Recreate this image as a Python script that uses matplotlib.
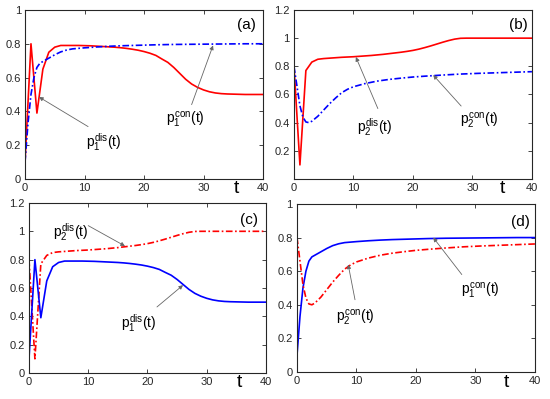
import numpy as np
import matplotlib
matplotlib.use("Agg")
import matplotlib.pyplot as plt
from matplotlib.ticker import FuncFormatter

plt.rcParams['font.family'] = ['Liberation Sans', 'DejaVu Sans']
plt.rcParams['mathtext.fontset'] = 'custom'
plt.rcParams['mathtext.rm'] = 'Liberation Sans'
plt.rcParams['mathtext.it'] = 'Liberation Sans'

# discrete-time curves, sampled at t = 0, 1, ..., 40
t_dis = list(range(41))
p1_dis = [0.10, 0.80, 0.39, 0.65, 0.75, 0.78, 0.79, 0.79, 0.79, 0.79,
          0.789, 0.788, 0.786, 0.784, 0.782, 0.780, 0.777, 0.773, 0.768, 0.762,
          0.754, 0.744, 0.731, 0.710, 0.690, 0.660, 0.625, 0.590, 0.562, 0.542,
          0.527, 0.516, 0.509, 0.505, 0.503, 0.502, 0.501, 0.50, 0.50, 0.50, 0.50]
p2_dis = [0.80, 0.10, 0.77, 0.83, 0.85, 0.855, 0.858, 0.861, 0.864, 0.866,
          0.868, 0.871, 0.874, 0.877, 0.881, 0.885, 0.890, 0.895, 0.900, 0.906,
          0.913, 0.922, 0.933, 0.945, 0.958, 0.971, 0.983, 0.993, 0.999, 1.0,
          1.0, 1.0, 1.0, 1.0, 1.0, 1.0, 1.0, 1.0, 1.0, 1.0, 1.0]

# continuous-time curves
t_con = [0, 0.5, 1, 1.5, 2, 2.5, 3, 4, 5, 6, 7, 8, 9, 10, 12, 14, 16, 18, 20,
         22, 25, 28, 31, 34, 37, 40]
p1_con = [0.10, 0.33, 0.50, 0.60, 0.66, 0.685, 0.695, 0.715, 0.735, 0.752,
          0.763, 0.770, 0.773, 0.776, 0.781, 0.785, 0.788, 0.790, 0.792,
          0.794, 0.796, 0.797, 0.798, 0.799, 0.80, 0.80]
p2_con = [0.80, 0.66, 0.52, 0.44, 0.405, 0.40, 0.41, 0.445, 0.49, 0.535,
          0.575, 0.612, 0.637, 0.655, 0.678, 0.695, 0.707, 0.716, 0.724,
          0.730, 0.738, 0.745, 0.750, 0.754, 0.758, 0.762]

RED = (1, 0, 0)
BLUE = (0, 0, 1)
DASHDOT = (0, (4, 1.5, 1, 1.5))

fig = plt.figure(figsize=(5.5, 3.99), dpi=100)
ax_a = fig.add_axes([0.0455, 0.5514, 0.4327, 0.4236])
ax_b = fig.add_axes([0.5345, 0.5514, 0.4327, 0.4236])
ax_c = fig.add_axes([0.0527, 0.0652, 0.4309, 0.4261])
ax_d = fig.add_axes([0.5400, 0.0677, 0.4327, 0.4211])

fmt = FuncFormatter(lambda v, p: f'{v:g}')


def style(ax, ylim, yticks, tag, tpos, tagpos):
    ax.set_xlim(0, 40)
    ax.set_ylim(*ylim)
    ax.set_xticks([0, 10, 20, 30, 40])
    ax.set_yticks(yticks)
    ax.xaxis.set_major_formatter(fmt)
    ax.yaxis.set_major_formatter(fmt)
    ax.tick_params(direction='in', length=3, width=0.6, labelsize=8,
                   top=True, right=True, pad=3, colors='0.15')
    for s in ax.spines.values():
        s.set_linewidth(0.8)
        s.set_color('0.15')
    ax.text(tpos[0], tpos[1], 't', transform=ax.transAxes, fontsize=14,
            ha='center', va='center')
    ax.text(tagpos[0], tagpos[1], tag, transform=ax.transAxes, fontsize=11,
            ha='center', va='center')


def label(ax, txt, pos, start, tip):
    ax.annotate('', xy=tip, xytext=start,
                arrowprops=dict(arrowstyle='-|>', color='0.4', lw=0.6,
                                mutation_scale=6, shrinkA=0, shrinkB=0))
    ax.text(pos[0], pos[1], txt, fontsize=10, ha='left', va='baseline')


# (a)
ax_a.plot(t_dis, p1_dis, color=RED, lw=1.2)
ax_a.plot(t_con, p1_con, color=BLUE, lw=1.2, linestyle=DASHDOT)
style(ax_a, (0, 1), [0, 0.2, 0.4, 0.6, 0.8, 1], '(a)', (0.89, -0.055), (0.93, 0.91))
label(ax_a, r'$p_1^{dis}(t)$', (10.3, 0.19), (10.6, 0.31), (2.35, 0.485))
label(ax_a, r'$p_1^{con}(t)$', (23.7, 0.33), (28.0, 0.44), (31.6, 0.79))

# (b)
ax_b.plot(t_dis, p2_dis, color=RED, lw=1.2)
ax_b.plot(t_con, p2_con, color=BLUE, lw=1.2, linestyle=DASHDOT)
style(ax_b, (0, 1.2), [0.2, 0.4, 0.6, 0.8, 1, 1.2], '(b)', (0.874, -0.055), (0.945, 0.91))
label(ax_b, r'$p_2^{dis}(t)$', (10.6, 0.334), (14.1, 0.50), (10.4, 0.866))
label(ax_b, r'$p_2^{con}(t)$', (27.9, 0.383), (28.1, 0.518), (23.4, 0.738))

# (c)
ax_c.plot(t_dis, p2_dis, color=RED, lw=1.2, linestyle=DASHDOT)
ax_c.plot(t_dis, p1_dis, color=BLUE, lw=1.2)
style(ax_c, (0, 1.2), [0, 0.2, 0.4, 0.6, 0.8, 1, 1.2], '(c)', (0.89, -0.055), (0.93, 0.90))
label(ax_c, r'$p_2^{dis}(t)$', (4.0, 0.96), (10.0, 1.04), (16.2, 0.896))
label(ax_c, r'$p_1^{dis}(t)$', (15.5, 0.318), (21.6, 0.466), (26.0, 0.62))

# (d)
ax_d.plot(t_con, p1_con, color=BLUE, lw=1.2)
ax_d.plot(t_con, p2_con, color=RED, lw=1.2, linestyle=DASHDOT)
style(ax_d, (0, 1), [0, 0.2, 0.4, 0.6, 0.8, 1], '(d)', (0.882, -0.065), (0.937, 0.893))
label(ax_d, r'$p_2^{con}(t)$', (6.55, 0.30), (9.75, 0.43), (8.6, 0.64))
label(ax_d, r'$p_1^{con}(t)$', (27.6, 0.46), (27.7, 0.58), (22.9, 0.80))

fig.savefig('out.png', dpi=100)
plt.close(fig)
